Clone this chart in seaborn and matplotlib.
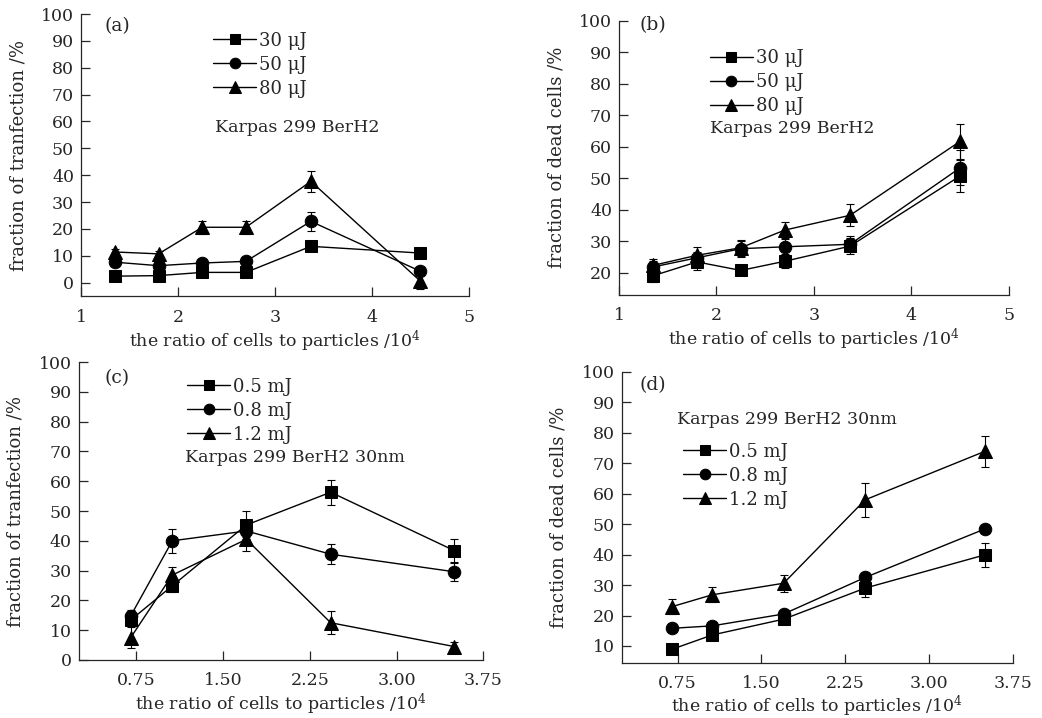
import numpy as np
import pandas as pd
import seaborn as sns
import matplotlib
matplotlib.use("Agg")
import matplotlib.pyplot as plt

# ---------------- Data ----------------
# panels (a) and (b): ratio of cells to particles (x 10^4)
ratio_ab = [1.35, 1.8, 2.25, 2.7, 3.37, 4.5]
labels_ab = ["30 μJ", "50 μJ", "80 μJ"]

transf_a = {
    "30 μJ": [2.4, 2.6, 3.8, 3.8, 13.5, 11.0],
    "50 μJ": [7.6, 6.3, 7.3, 7.9, 22.8, 4.2],
    "80 μJ": [11.4, 10.7, 20.6, 20.6, 37.7, 0.5],
}
err_a = {
    "30 μJ": [0.8, 0.8, 1.0, 1.0, 1.2, 1.2],
    "50 μJ": [1.0, 1.0, 1.0, 1.0, 3.5, 1.0],
    "80 μJ": [1.2, 1.2, 2.5, 2.5, 4.0, 3.0],
}

dead_b = {
    "30 μJ": [19.0, 23.4, 20.7, 23.6, 28.4, 50.7],
    "50 μJ": [21.8, 24.7, 27.6, 28.2, 29.0, 53.3],
    "80 μJ": [22.3, 25.5, 27.9, 33.5, 38.2, 61.7],
}
err_b = {
    "30 μJ": [2.0, 2.5, 1.5, 2.2, 2.5, 5.0],
    "50 μJ": [2.0, 2.0, 2.5, 2.5, 2.5, 5.5],
    "80 μJ": [2.0, 2.5, 2.5, 2.5, 3.5, 5.5],
}

# panels (c) and (d)
ratio_cd = [0.7, 1.06, 1.7, 2.43, 3.5]
labels_cd = ["0.5 mJ", "0.8 mJ", "1.2 mJ"]

transf_c = {
    "0.5 mJ": [13.4, 24.9, 45.3, 56.3, 36.7],
    "0.8 mJ": [14.8, 40.0, 43.3, 35.5, 29.6],
    "1.2 mJ": [7.5, 28.5, 40.5, 12.5, 4.5],
}
err_c = {
    "0.5 mJ": [2.0, 2.0, 4.8, 4.2, 4.0],
    "0.8 mJ": [2.0, 4.0, 2.0, 3.3, 3.2],
    "1.2 mJ": [3.5, 2.8, 4.0, 3.8, 1.5],
}

dead_d = {
    "0.5 mJ": [8.9, 13.6, 18.8, 29.0, 39.9],
    "0.8 mJ": [15.8, 16.6, 20.5, 32.5, 48.4],
    "1.2 mJ": [22.9, 26.8, 30.6, 58.0, 73.9],
}
err_d = {
    "0.5 mJ": [1.0, 1.0, 1.0, 3.0, 4.0],
    "0.8 mJ": [1.0, 1.0, 1.0, 1.5, 1.0],
    "1.2 mJ": [2.5, 2.5, 2.8, 5.5, 5.0],
}

# ---------------- Style ----------------
sns.set_style("ticks")
plt.rcParams["font.family"] = ["DejaVu Serif"]
plt.rcParams["mathtext.fontset"] = "dejavuserif"
plt.rcParams["font.size"] = 12

markers = ["s", "o", "^"]
msizes = [8, 9, 9.5]

fig = plt.figure(figsize=(10.42, 7.18), dpi=100)
ax_a = fig.add_axes([0.0777, 0.5877, 0.3724, 0.3928])
ax_b = fig.add_axes([0.5940, 0.5896, 0.3743, 0.3816])
ax_c = fig.add_axes([0.0755, 0.0808, 0.3883, 0.4150])
ax_d = fig.add_axes([0.5966, 0.0770, 0.3752, 0.4050])


def draw_panel(ax, x, data, err, labels):
    for lab, m, ms in zip(labels, markers, msizes):
        sns.lineplot(x=x, y=data[lab], ax=ax, color="black", marker=m,
                     markersize=ms, markeredgecolor="black", linewidth=1.0,
                     label=lab)
        ax.errorbar(x, data[lab], yerr=err[lab], fmt="none", ecolor="black",
                    elinewidth=0.8, capsize=3, capthick=0.8)
    sns.despine(ax=ax)
    ax.tick_params(direction="in", length=6.5, width=0.9, labelsize=12.5)
    ax.tick_params(axis="x", pad=9)
    ax.tick_params(axis="y", pad=5)
    for s in ax.spines.values():
        s.set_linewidth(0.9)


draw_panel(ax_a, ratio_ab, transf_a, err_a, labels_ab)
draw_panel(ax_b, ratio_ab, dead_b, err_b, labels_ab)
draw_panel(ax_c, ratio_cd, transf_c, err_c, labels_cd)
draw_panel(ax_d, ratio_cd, dead_d, err_d, labels_cd)

xlab = "the ratio of cells to particles /10$^4$"

ax_a.set_xlim(1, 5)
ax_a.set_ylim(-5, 100)
ax_a.set_xticks([1, 2, 3, 4, 5])
ax_a.set_yticks(range(0, 101, 10))
ax_a.set_ylabel("fraction of tranfection /%")

ax_b.set_xlim(1, 5)
ax_b.set_ylim(13, 100)
ax_b.set_xticks([1, 2, 3, 4, 5])
ax_b.set_yticks(range(20, 101, 10))
ax_b.set_ylabel("fraction of dead cells /%")

ax_c.set_xlim(0.25, 3.75)
ax_c.set_ylim(0, 100)
ax_c.set_xticks([0.75, 1.5, 2.25, 3.0, 3.75])
ax_c.set_xticklabels(["0.75", "1.50", "2.25", "3.00", "3.75"])
ax_c.set_yticks(range(0, 101, 10))
ax_c.set_ylabel("fraction of tranfection /%")

ax_d.set_xlim(0.25, 3.75)
ax_d.set_ylim(4.5, 100)
ax_d.set_xticks([0.75, 1.5, 2.25, 3.0, 3.75])
ax_d.set_xticklabels(["0.75", "1.50", "2.25", "3.00", "3.75"])
ax_d.set_yticks(range(10, 101, 10))
ax_d.set_ylabel("fraction of dead cells /%")

for ax in (ax_a, ax_b, ax_c, ax_d):
    ax.set_xlabel(xlab, fontsize=12.5)
    ax.yaxis.label.set_fontsize(13)
    ax.xaxis.labelpad = 2
    ax.yaxis.labelpad = 10
ax_d.xaxis.labelpad = 1

# legends, panel letters and cell-line notes
legend_pos = {ax_a: (0.34, 0.937), ax_b: (0.233, 0.895),
              ax_c: (0.268, 0.947), ax_d: (0.157, 0.757)}
for ax, pos in legend_pos.items():
    ax.legend(loc="upper left", bbox_to_anchor=pos, frameon=False,
              handlelength=2.4, handletextpad=0.15, labelspacing=0.33,
              borderpad=0, borderaxespad=0, markerscale=0.85, fontsize=13)

for ax, lett, pos in [(ax_a, "(a)", (0.060, 0.957)), (ax_b, "(b)", (0.052, 0.984)),
                      (ax_c, "(c)", (0.063, 0.946)), (ax_d, "(d)", (0.045, 0.955))]:
    ax.text(pos[0], pos[1], lett, transform=ax.transAxes, va="center", fontsize=13.5)

ax_a.text(0.345, 0.596, "Karpas 299 BerH2", transform=ax_a.transAxes, va="center", fontsize=12.5)
ax_b.text(0.233, 0.608, "Karpas 299 BerH2", transform=ax_b.transAxes, va="center", fontsize=12.5)
ax_c.text(0.263, 0.681, "Karpas 299 BerH2 30nm", transform=ax_c.transAxes, va="center", fontsize=12.5)
ax_d.text(0.141, 0.835, "Karpas 299 BerH2 30nm", transform=ax_d.transAxes, va="center", fontsize=12.5)

fig.savefig("out.png", dpi=100)
